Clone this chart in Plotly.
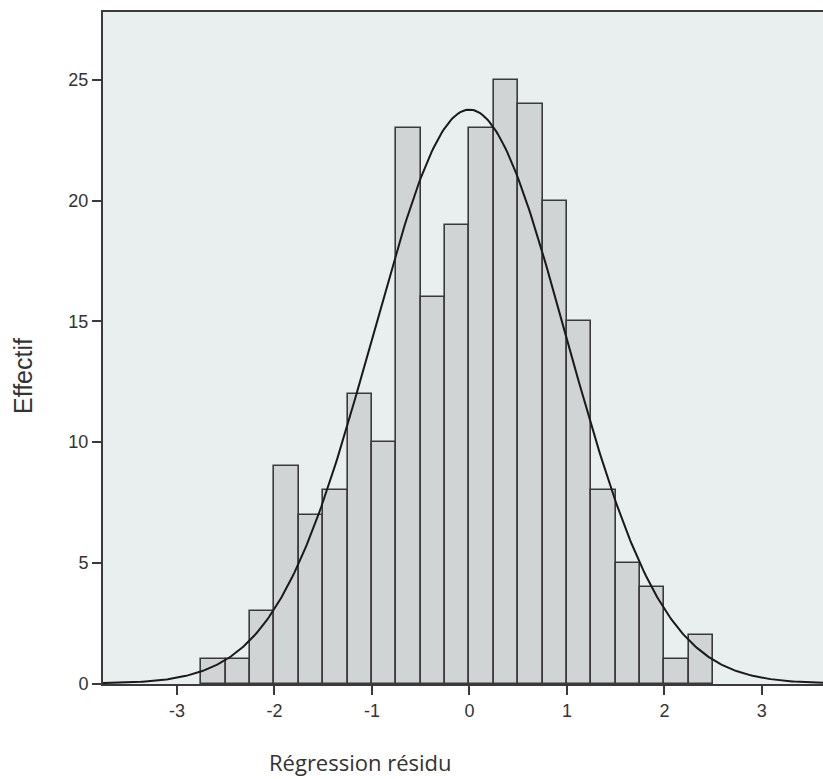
import numpy as np
import plotly.graph_objects as go

# Histogram bins (left edges) and counts
bin_left = [-2.75, -2.5, -2.25, -2.0, -1.75, -1.5, -1.25, -1.0, -0.75, -0.5, -0.25,
            0.0, 0.25, 0.5, 0.75, 1.0, 1.25, 1.5, 1.75, 2.0, 2.25]
counts = [1, 1, 3, 9, 7, 8, 12, 10, 23, 16, 19, 23, 25, 24, 20, 15, 8, 5, 4, 1, 2]
bin_width = 0.25

# Fitted normal curve parameters
curve_mean = 0.0
curve_std = 0.99
n_total = sum(counts)

x_ticks = [-3, -2, -1, 0, 1, 2, 3]
y_ticks = [0, 5, 10, 15, 20, 25]

x_title = "Régression résidu"
y_title = "Effectif"

x_range = [-3.758, 3.627]
y_range = [-0.02, 27.82]

centers = [b + bin_width / 2 for b in bin_left]

xs = np.linspace(x_range[0], x_range[1], 400)
ys = n_total * bin_width / (curve_std * np.sqrt(2 * np.pi)) * np.exp(-0.5 * ((xs - curve_mean) / curve_std) ** 2)

fig = go.Figure()
fig.add_trace(go.Bar(
    x=centers, y=counts, width=bin_width,
    marker=dict(color="#d1d4d5", line=dict(color="#3a3a3a", width=1.6)),
    showlegend=False, hoverinfo="skip",
))
fig.add_trace(go.Scatter(
    x=xs, y=ys, mode="lines",
    line=dict(color="#1a1a1a", width=2),
    showlegend=False, hoverinfo="skip",
))

tick_font = dict(family="Liberation Sans, Arial, sans-serif", size=18, color="#333333")

fig.update_layout(
    width=823, height=779,
    margin=dict(l=103, r=0, t=12, b=95),
    paper_bgcolor="#ffffff",
    plot_bgcolor="#e9eeef",
    bargap=0,
    xaxis=dict(
        range=x_range, tickvals=x_ticks, ticktext=[str(v) for v in x_ticks],
        showgrid=False, zeroline=False,
        showline=True, linecolor="#3a3a3a", linewidth=2, mirror=True,
        ticks="outside", ticklen=9, tickwidth=1.5, tickcolor="#3a3a3a",
        tickfont=tick_font,
    ),
    yaxis=dict(
        range=y_range, tickvals=y_ticks, ticktext=[str(v) for v in y_ticks],
        showgrid=False, zeroline=False,
        showline=True, linecolor="#3a3a3a", linewidth=2,
        ticks="outside", ticklen=9, tickwidth=1.5, tickcolor="#3a3a3a",
        tickfont=tick_font,
    ),
    annotations=[
        dict(text=x_title, xref="paper", yref="paper",
             x=(360 - 103) / 720, y=(684 - 762) / 672,
             xanchor="center", yanchor="middle", showarrow=False,
             font=dict(family="Open Sans, sans-serif", size=22, color="#333333")),
        dict(text=y_title, xref="paper", yref="paper",
             x=(23 - 103) / 720, y=(684 - 376) / 672, textangle=-90,
             xanchor="center", yanchor="middle", showarrow=False,
             font=dict(family="Liberation Sans, Arial, sans-serif", size=25, color="#333333")),
    ],
)

fig.write_html(
    "out.html",
    config={"displayModeBar": False},
    post_script="document.body.style.margin='0px';document.body.style.overflow='hidden';",
)
